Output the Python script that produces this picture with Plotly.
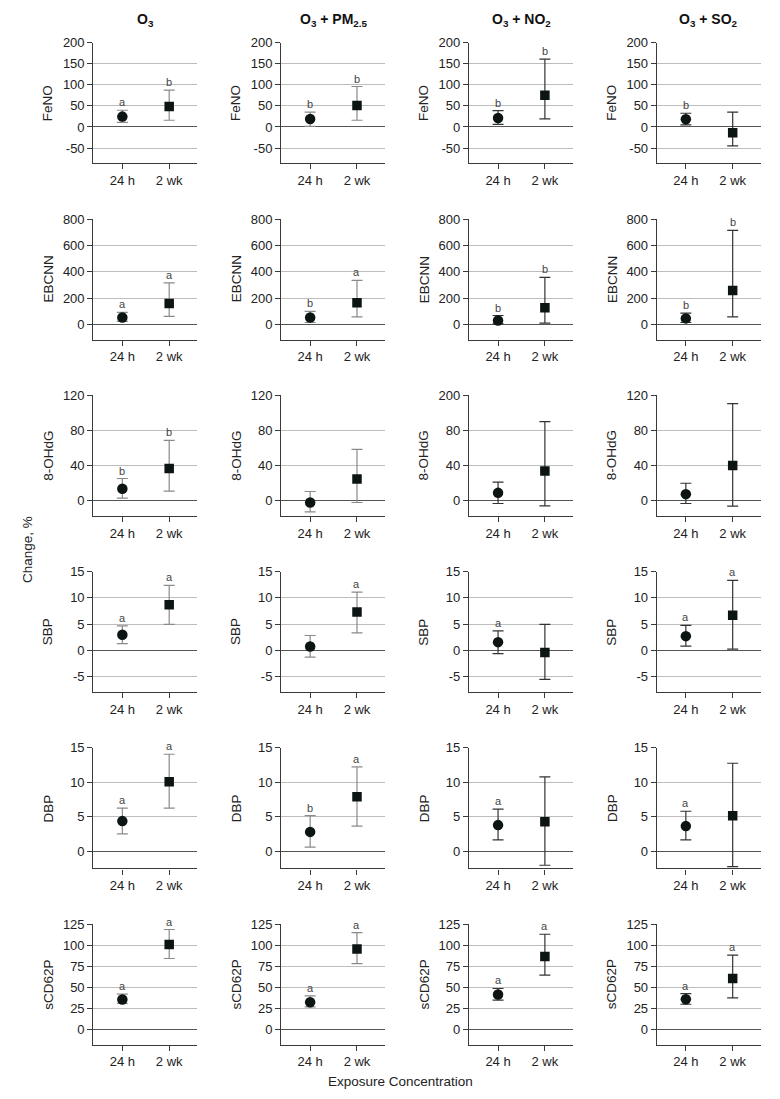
import plotly.graph_objects as go
from plotly.subplots import make_subplots

# ---------------- data ----------------
TIMES = ["24 h", "2 wk"]
EXPOSURES = ["<b>O<sub>3</sub></b>", "<b>O<sub>3</sub> + PM<sub>2.5</sub></b>",
             "<b>O<sub>3</sub> + NO<sub>2</sub></b>", "<b>O<sub>3</sub> + SO<sub>2</sub></b>"]
OUTCOMES = ["FeNO", "EBCNN", "8-OHdG", "SBP", "DBP", "sCD62P"]

# each list: one [24 h, 2 wk] pair per exposure column
feno_mean = [[24.6, 48.4], [19.0, 50.8], [21.4, 75.4], [18.3, -13.5]]
feno_low = [[11.0, 15.9], [1.6, 15.9], [6.3, 19.0], [4.8, -45.0]]
feno_high = [[39.7, 87.3], [35.0, 96.0], [38.9, 161.0], [32.5, 35.0]]
feno_sig = [["a", "b"], ["b", "b"], ["b", "b"], ["b", ""]]

ebcnn_mean = [[53, 159], [53, 165], [30, 127], [46, 258]]
ebcnn_low = [[23, 61], [15, 58], [5, 10], [15, 58]]
ebcnn_high = [[91, 316], [99, 334], [68, 357], [86, 714]]
ebcnn_sig = [["a", "a"], ["b", "a"], ["b", "b"], ["b", "b"]]

ohdg_mean = [[13.7, 36.8], [-1.9, 24.7], [9.1, 33.8], [7.6, 40.3]]
ohdg_low = [[3.0, 11.0], [-12.5, -1.9], [-3.0, -5.7], [-3.0, -6.0]]
ohdg_high = [[25.4, 68.7], [10.6, 58.5], [21.3, 90.0], [20.0, 110.5]]
ohdg_sig = [["b", "b"], ["", ""], ["", ""], ["", ""]]

sbp_mean = [[3.0, 8.7], [0.76, 7.3], [1.59, -0.38], [2.73, 6.7]]
sbp_low = [[1.33, 4.96], [-1.27, 3.37], [-0.57, -5.5], [0.83, 0.25]]
sbp_high = [[4.7, 12.4], [2.86, 11.1], [3.75, 4.96], [4.77, 13.35]]
sbp_sig = [["a", "a"], ["", "a"], ["a", ""], ["a", "a"]]

dbp_mean = [[4.37, 10.1], [2.8, 7.9], [3.79, 4.27], [3.64, 5.15]]
dbp_low = [[2.52, 6.26], [0.58, 3.64], [1.65, -2.04], [1.65, -2.23]]
dbp_high = [[6.26, 14.08], [5.15, 12.23], [6.1, 10.78], [5.8, 12.77]]
dbp_sig = [["a", "a"], ["b", "a"], ["a", ""], ["a", ""]]

cd62_mean = [[35.6, 100.9], [32.4, 95.7], [41.5, 86.6], [36.0, 60.5]]
cd62_low = [[30.9, 84.3], [26.9, 78.3], [34.8, 64.5], [30.0, 37.6]]
cd62_high = [[41.9, 118.7], [40.0, 115.1], [48.7, 113.1], [42.7, 88.2]]
cd62_sig = [["a", "a"], ["a", "a"], ["a", "a"], ["a", "a"]]

feno_ticks = [-50, 0, 50, 100, 150, 200]
ebcnn_ticks = [0, 200, 400, 600, 800]
ohdg_ticks = [0, 40, 80, 120]
ohdg_ticktext_no2 = ["0", "40", "80", "200"]   # top label as printed in the source
sbp_ticks = [-5, 0, 5, 10, 15]
dbp_ticks = [0, 5, 10, 15]
cd62_ticks = [0, 25, 50, 75, 100, 125]

Y_LABEL = "Change, %"
X_LABEL = "Exposure Concentration"

# ---------------- styling / layout ----------------
W, H = 780, 1099
FONT = "Liberation Sans, Arial, sans-serif"
TXT = "#222222"
MARK = "#0c1414"
GRID = "#bdbdbd"
AXC = "#3a3a3a"

series = [
    (feno_mean, feno_low, feno_high, feno_sig, feno_ticks, [-86, 200]),
    (ebcnn_mean, ebcnn_low, ebcnn_high, ebcnn_sig, ebcnn_ticks, [-114, 800]),
    (ohdg_mean, ohdg_low, ohdg_high, ohdg_sig, ohdg_ticks, [-17, 120]),
    (sbp_mean, sbp_low, sbp_high, sbp_sig, sbp_ticks, [-7.9, 15]),
    (dbp_mean, dbp_low, dbp_high, dbp_sig, dbp_ticks, [-2.5, 15]),
    (cd62_mean, cd62_low, cd62_high, cd62_sig, cd62_ticks, [-18, 125]),
]

col_left = [93.3, 281.1, 469.0, 656.8]
col_w = 104.0
row_top0, row_step, row_h = 42.7, 176.3, 120.5
err_colors = ["#8a8a8a", "#8a8a8a", "#333333", "#333333"]

fig = make_subplots(rows=6, cols=4)
annotations = []

for r, (mean, low, high, sig, ticks, yr) in enumerate(series):
    top_px = row_top0 + r * row_step
    bot_px = top_px + row_h
    ydom = [1 - bot_px / H, 1 - top_px / H]
    for c in range(4):
        m, lo, hi = mean[c], low[c], high[c]
        fig.add_trace(
            go.Scatter(
                x=TIMES, y=m, mode="markers",
                marker=dict(symbol=["circle", "square"], size=[10.5, 9.5], color=MARK,
                            opacity=1, line=dict(width=0)),
                error_y=dict(type="data", symmetric=False,
                             array=[hi[i] - m[i] for i in range(2)],
                             arrayminus=[m[i] - lo[i] for i in range(2)],
                             color=err_colors[c], thickness=1.2, width=5.5),
                hoverinfo="skip", showlegend=False,
            ),
            row=r + 1, col=c + 1,
        )
        idx = r * 4 + c + 1
        xa = "xaxis" if idx == 1 else f"xaxis{idx}"
        ya = "yaxis" if idx == 1 else f"yaxis{idx}"
        xref = "x" if idx == 1 else f"x{idx}"
        yref = "y" if idx == 1 else f"y{idx}"
        x0 = col_left[c]
        xdom = [x0 / W, (x0 + col_w) / W]
        ticktext = [str(t) for t in ticks]
        if r == 2 and c == 2:
            ticktext = ohdg_ticktext_no2
        fig.layout[xa].update(
            domain=xdom, type="category", range=[-0.62, 1.6], automargin=False,
            showline=True, linecolor=AXC, linewidth=1.2,
            ticks="outside", ticklen=5, tickcolor=AXC, tickwidth=1.2,
            showgrid=False, zeroline=False,
            tickfont=dict(size=13, color=TXT, family=FONT),
        )
        fig.layout[ya].update(
            domain=ydom, range=yr, tickvals=ticks, ticktext=ticktext, automargin=False,
            showline=True, linecolor=AXC, linewidth=1.2,
            ticks="outside", ticklen=5, tickcolor=AXC, tickwidth=1.2,
            showgrid=True, gridcolor=GRID, gridwidth=1,
            zeroline=True, zerolinecolor="#555555", zerolinewidth=1.3,
            tickfont=dict(size=13, color=TXT, family=FONT),
        )
        # significance letters
        for i in range(2):
            if sig[c][i]:
                annotations.append(dict(
                    x=TIMES[i], y=hi[i], xref=xref, yref=yref, text=sig[c][i],
                    showarrow=False, yanchor="bottom", yshift=0,
                    font=dict(size=11, color="#444444", family=FONT)))
        # outcome label
        annotations.append(dict(
            x=(x0 - 45) / W, y=1 - (top_px + bot_px) / 2 / H, xref="paper", yref="paper",
            text=OUTCOMES[r], textangle=-90, showarrow=False,
            xanchor="center", yanchor="middle",
            font=dict(size=13.5, color=TXT, family=FONT)))

for c in range(4):
    annotations.append(dict(
        x=(col_left[c] + col_w / 2) / W, y=1 - 20 / H, xref="paper", yref="paper",
        text=EXPOSURES[c], showarrow=False, xanchor="center", yanchor="middle",
        font=dict(size=14, color="#111111", family=FONT)))

annotations.append(dict(
    x=27 / W, y=1 - 550 / H, xref="paper", yref="paper", text=Y_LABEL,
    textangle=-90, showarrow=False, xanchor="center", yanchor="middle",
    font=dict(size=13.5, color=TXT, family=FONT)))
annotations.append(dict(
    x=401 / W, y=1 - 1081 / H, xref="paper", yref="paper", text=X_LABEL,
    showarrow=False, xanchor="center", yanchor="middle",
    font=dict(size=13.5, color=TXT, family=FONT)))

fig.update_layout(
    width=W, height=H, margin=dict(l=0, r=0, t=0, b=0, pad=0, autoexpand=False),
    paper_bgcolor="white", plot_bgcolor="white",
    showlegend=False, annotations=annotations,
    font=dict(family=FONT, color=TXT),
)

fig.write_html(
    "out.html",
    config={"displayModeBar": False},
    post_script="document.body.style.margin='0';document.body.style.padding='0';",
)
